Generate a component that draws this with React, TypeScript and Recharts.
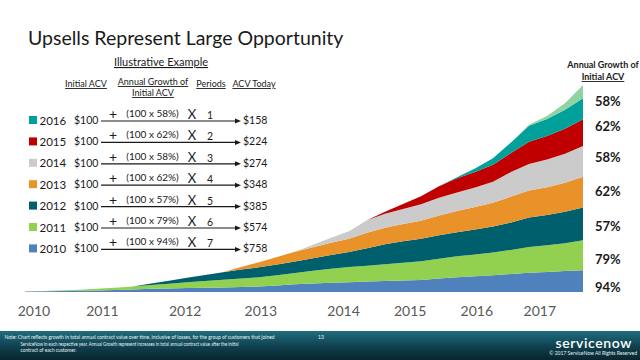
import { AreaChart, Area, XAxis, YAxis } from 'recharts';

// quarterly stacked ACV by customer cohort, 2010 Q1 .. 2017 Q4 (relative units)
const cohort2010 = [0.5, 0.8, 1.0, 1.2, 1.6, 2.0, 2.6, 3.3, 3.6, 3.9, 4.2, 4.6, 5.0, 5.5, 6.5, 7.8, 8.6, 9.2, 9.8, 10.4, 11.0, 11.5, 12.0, 13.5, 14.8, 15.8, 16.8, 18.0, 19.2, 20.0, 21.0, 21.7];
const cohort2011 = [0, 0.3, 0.6, 1.0, 1.6, 2.2, 3.0, 3.8, 4.6, 5.8, 6.8, 7.6, 8.4, 9.2, 10.2, 11.2, 12.6, 14.0, 15.2, 15.8, 16.6, 17.6, 18.6, 19.8, 20.8, 21.6, 22.6, 24.0, 25.8, 26.6, 27.6, 30.0];
const cohort2012 = [0, 0, 0, 0, 0, 0, 0, 1.5, 3, 4.5, 6, 7.5, 9, 10, 10.8, 11.5, 12.5, 13.8, 15, 17.5, 20, 21.5, 22.5, 23.3, 24, 25, 26, 27.5, 29.3, 30.3, 31.5, 32.7];
const cohort2013 = [0, 0, 0, 0, 0, 0, 0, 0, 0, 0, 0, 0, 2.5, 5, 7.5, 9.6, 11, 12.2, 13.2, 15.5, 16.6, 17.2, 18, 19.8, 21.2, 22.4, 23.6, 25.8, 27, 27.8, 29, 30.6];
const cohort2014 = [0, 0, 0, 0, 0, 0, 0, 0, 0, 0, 0, 0, 0, 0, 0, 0, 2.5, 5, 7.5, 12.5, 14, 15, 16.5, 17.6, 18.6, 19.6, 21, 24.5, 26.5, 27.5, 29, 30.7];
const cohort2015 = [0, 0, 0, 0, 0, 0, 0, 0, 0, 0, 0, 0, 0, 0, 0, 0, 0, 0, 0, 0, 2, 5, 8, 11.5, 14.3, 15.5, 17, 19, 22.3, 23.5, 25, 26.7];
const cohort2016 = [0, 0, 0, 0, 0, 0, 0, 0, 0, 0, 0, 0, 0, 0, 0, 0, 0, 0, 0, 0, 0, 0, 0, 0, 1, 3.5, 6.5, 10.5, 16, 17, 19, 21];
const cohort2017 = [0, 0, 0, 0, 0, 0, 0, 0, 0, 0, 0, 0, 0, 0, 0, 0, 0, 0, 0, 0, 0, 0, 0, 0, 0, 0, 0, 0, 0.8, 3, 6.5, 13.3];

const yearLabels = ['2010', '2011', '2012', '2013', '2014', '2015', '2016', '2017'];
// where the year captions sit, in quarter index units
const yearTickAt = [0.5, 4.3, 8.9, 13.1, 17.7, 21.4, 25.1, 28.6];

// illustrative example table, top row first
const tableYears = ['2016', '2015', '2014', '2013', '2012', '2011', '2010'];
const initialAcv = ['$100', '$100', '$100', '$100', '$100', '$100', '$100'];
const growthRates = ['58%', '62%', '58%', '62%', '57%', '79%', '94%'];
const periods = ['1', '2', '3', '4', '5', '6', '7'];
const acvToday = ['$158', '$224', '$274', '$348', '$385', '$574', '$758'];

const noteLines = [
  'Note: Chart reflects growth in total annual contract value over time, inclusive of losses, for the group of customers that joined',
  'ServiceNow in each respective year.  Annual Growth represent increases in total annual contract value after the initial',
  'contract of each customer.',
];

const colors: Record<string, string> = {
  c2010: '#4f81bd',
  c2011: '#92d050',
  c2012: '#005f6c',
  c2013: '#e9922a',
  c2014: '#cbcbcb',
  c2015: '#c00000',
  c2016: '#00a09b',
  c2017: '#8fd3a3',
};

const seriesKeys = ['c2010', 'c2011', 'c2012', 'c2013', 'c2014', 'c2015', 'c2016', 'c2017'];
const seriesValues = [cohort2010, cohort2011, cohort2012, cohort2013, cohort2014, cohort2015, cohort2016, cohort2017];

const data = cohort2010.map((_v, q) => {
  const row: Record<string, number> = { q };
  seriesKeys.forEach((k, s) => {
    row[k] = seriesValues[s][q];
  });
  return row;
});

const maxTotal = Math.max(...data.map((r) => seriesKeys.reduce((sum, k) => sum + r[k], 0)));

const FONT = 'Lato, "Open Sans", "Liberation Sans", sans-serif';

// y centre of each right-hand percentage, top row first
const pctY = [101, 126, 157, 191, 226, 259, 287];
// note lines: x start, baseline, width
const noteLayout = [
  [4.5, 339, 270],
  [20.5, 345.5, 218],
  [20.5, 352, 56],
];

const ROW_Y0 = 120;
const ROW_GAP = 21.4;

const App = () => {
  return (
    <div
      style={{
        position: 'fixed',
        left: 0,
        top: 0,
        width: 640,
        height: 360,
        background: '#fff',
        overflow: 'hidden',
        fontFamily: FONT,
      }}
    >
      <div style={{ position: 'absolute', left: 0, top: 0 }}>
        <AreaChart width={640} height={360} data={data} margin={{ top: 85, right: 57, bottom: 38, left: 25 }}>
          <XAxis
            type="number"
            dataKey="q"
            domain={[0, cohort2010.length - 1]}
            ticks={yearTickAt}
            interval={0}
            tickFormatter={(_v: number, i: number) => yearLabels[i]}
            axisLine={false}
            tickLine={false}
            tickMargin={8}
            height={30}
            tick={{ fill: '#595959', fontSize: 14, fontFamily: FONT }}
          />
          <YAxis hide domain={[0, maxTotal]} />
          {seriesKeys.map((k) => (
            <Area
              key={k}
              type="linear"
              dataKey={k}
              stackId="acv"
              stroke="none"
              fill={colors[k]}
              fillOpacity={1}
              isAnimationActive={false}
            />
          ))}
        </AreaChart>
      </div>

      <svg width={640} height={360} style={{ position: 'absolute', left: 0, top: 0, pointerEvents: 'none' }}>
        <text x={28} y={45} fontSize={19.5} fill="#1a1a1a" fontFamily={FONT}>
          Upsells Represent Large Opportunity
        </text>

        <g fontFamily={FONT} fill="#1a1a1a">
          <text x={161} y={66} fontSize={11} textAnchor="middle" textDecoration="underline">
            Illustrative Example
          </text>
          <text x={86} y={87} fontSize={9} textAnchor="middle" textDecoration="underline">
            Initial ACV
          </text>
          <text x={153} y={85} fontSize={9} textAnchor="middle" textDecoration="underline">
            Annual Growth of
          </text>
          <text x={153} y={96} fontSize={9} textAnchor="middle" textDecoration="underline">
            Initial ACV
          </text>
          <text x={211} y={87} fontSize={9} textAnchor="middle" textDecoration="underline">
            Periods
          </text>
          <text x={254} y={87} fontSize={9} textAnchor="middle" textDecoration="underline">
            ACV Today
          </text>

          {tableYears.map((yr, i) => {
            const cy = ROW_Y0 + i * ROW_GAP;
            return (
              <g key={yr}>
                <rect x={29} y={cy - 4} width={8} height={8} fill={colors['c' + yr]} />
                <text x={39.5} y={cy + 4.5} fontSize={11.5}>{yr}</text>
                <text x={74} y={cy + 4} fontSize={10.5}>{initialAcv[i]}</text>
                <line x1={101} y1={cy + 1} x2={237} y2={cy + 1} stroke="#1a1a1a" strokeWidth={1.2} />
                <polygon points={`${241},${cy + 1} ${235},${cy - 1.5} ${235},${cy + 3.5}`} fill="#1a1a1a" />
                <text x={113} y={cy - 1} fontSize={14} textAnchor="middle">+</text>
                <text x={152.5} y={cy - 3} fontSize={10} textAnchor="middle">
                  {`(100 x ${growthRates[i]})`}
                </text>
                <text x={192} y={cy - 1} fontSize={13} textAnchor="middle">X</text>
                <text x={210} y={cy - 1} fontSize={10.5} textAnchor="middle">{periods[i]}</text>
                <text x={243} y={cy + 4} fontSize={10.5}>{acvToday[i]}</text>
              </g>
            );
          })}
        </g>

        <g fontFamily={FONT} fill="#1a1a1a" fontWeight="bold">
          <text x={603} y={68} fontSize={9} textAnchor="middle">Annual Growth of</text>
          <text x={603} y={80} fontSize={9} textAnchor="middle" textDecoration="underline">Initial ACV</text>
          {growthRates.map((p, i) => (
            <text key={i} x={595} y={pctY[i] + 5} fontSize={13}>{p}</text>
          ))}
        </g>
      </svg>

      <div
        style={{
          position: 'absolute',
          left: 0,
          top: 331,
          width: 640,
          height: 29,
          background: 'linear-gradient(180deg, #1f6e80 0%, #0f3f4d 55%, #082530 100%)',
        }}
      />
      <svg width={640} height={360} style={{ position: 'absolute', left: 0, top: 0, pointerEvents: 'none' }}>
        <g fontFamily={FONT} fill="#e8f1f3" fontSize={5.4}>
          {noteLines.map((t, i) => (
            <text
              key={i}
              x={noteLayout[i][0]}
              y={noteLayout[i][1]}
              textLength={noteLayout[i][2]}
              lengthAdjust="spacingAndGlyphs"
            >
              {t}
            </text>
          ))}
          <text x={318} y={339} fontSize={5}>13</text>
          <text x={637} y={355} fontSize={5} textAnchor="end">© 2017 ServiceNow All Rights Reserved</text>
        </g>
        <text x={632} y={347.5} fontFamily={FONT} fontSize={14} fill="#ffffff" textAnchor="end" letterSpacing={0.6} fontWeight={600}>
          servicenow
        </text>
      </svg>
    </div>
  );
};

export default App;
